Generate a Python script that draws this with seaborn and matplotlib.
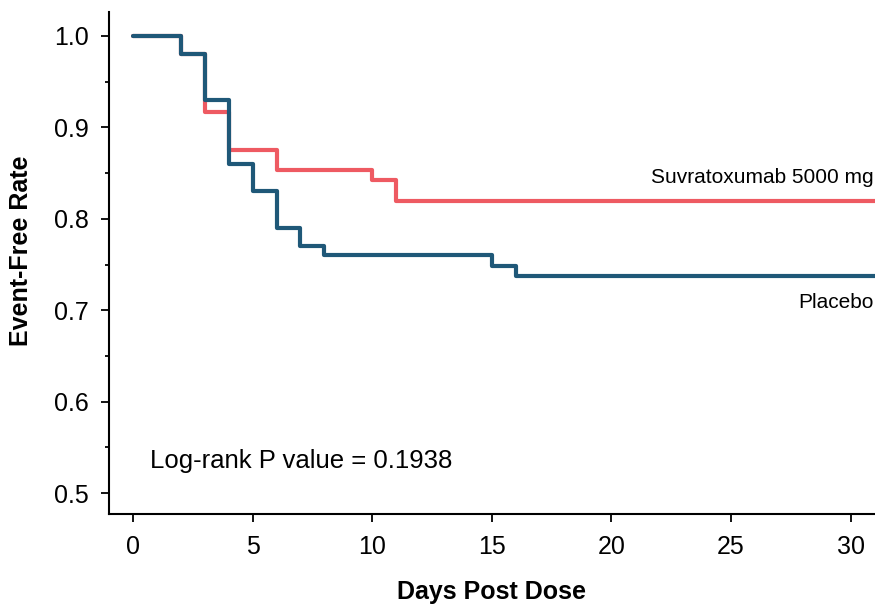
import numpy as np
import pandas as pd
import matplotlib
matplotlib.use('Agg')
import matplotlib.pyplot as plt
import seaborn as sns
from matplotlib.ticker import MultipleLocator, FormatStrFormatter

# step times (days) and event-free rate after each step
placebo_days = [0, 2, 3, 4, 5, 6, 7, 8, 15, 16, 31]
placebo_rate = [1.0, 0.98, 0.93, 0.86, 0.83, 0.79, 0.77, 0.76, 0.748, 0.737, 0.737]

suv_days = [0, 2, 3, 4, 6, 10, 11, 31]
suv_rate = [1.0, 0.98, 0.917, 0.875, 0.853, 0.842, 0.819, 0.819]

groups = ['Suvratoxumab 5000 mg', 'Placebo']
colors = {'Suvratoxumab 5000 mg': '#ee5a62', 'Placebo': '#1f5878'}

df = pd.concat([
    pd.DataFrame({'day': suv_days, 'rate': suv_rate, 'group': groups[0]}),
    pd.DataFrame({'day': placebo_days, 'rate': placebo_rate, 'group': groups[1]}),
])

sns.set_style('ticks')
plt.rcParams['font.family'] = ['Liberation Sans', 'DejaVu Sans']
plt.rcParams['text.color'] = 'black'
plt.rcParams['axes.labelcolor'] = 'black'
narrow = ['Liberation Sans Narrow', 'Liberation Sans']

fig = plt.figure(figsize=(8.75, 6.05), dpi=100)
ax = fig.add_axes([0.1246, 0.150, 0.875, 0.830])

sns.lineplot(data=df, x='day', y='rate', hue='group', hue_order=groups,
             palette=colors, drawstyle='steps-post', linewidth=3,
             legend=False, ax=ax, estimator=None)

ax.set_xlim(-1, 31)
ax.set_ylim(0.477, 1.026)
ax.set_xticks([0, 5, 10, 15, 20, 25, 30])
ax.yaxis.set_major_locator(MultipleLocator(0.1))
ax.yaxis.set_minor_locator(MultipleLocator(0.05))
ax.yaxis.set_major_formatter(FormatStrFormatter('%.1f'))

sns.despine(ax=ax)
for s in ['left', 'bottom']:
    ax.spines[s].set_linewidth(1.5)
    ax.spines[s].set_color('black')
ax.tick_params(axis='y', which='major', length=6, width=1.3, labelsize=18, pad=8.5,
               colors='black', labelcolor='black')
ax.tick_params(axis='y', which='minor', length=3, width=1.3, left=True, colors='black')
ax.tick_params(axis='x', which='major', length=6, width=1.3, labelsize=18, pad=9,
               colors='black', labelcolor='black')
for lab in ax.get_xticklabels():
    lab.set_family(narrow)

ax.set_xlabel('Days Post Dose', fontsize=18, fontweight='bold', family=narrow, color='black')
ax.set_ylabel('Event-Free Rate', fontsize=18, fontweight='bold', family=narrow, color='black')
ax.xaxis.set_label_coords(0.5, -0.131)
ax.yaxis.set_label_coords(-0.099, 0.524)

ax.text(30.95, 0.845, 'Suvratoxumab 5000 mg', ha='right', va='center', fontsize=15, color='black')
ax.text(30.95, 0.709, 'Placebo', ha='right', va='center', fontsize=15, color='black')
ax.text(0.7, 0.535, 'Log-rank P value = 0.1938', ha='left', va='center', fontsize=18.5, color='black')

fig.savefig('out.png', dpi=100)
